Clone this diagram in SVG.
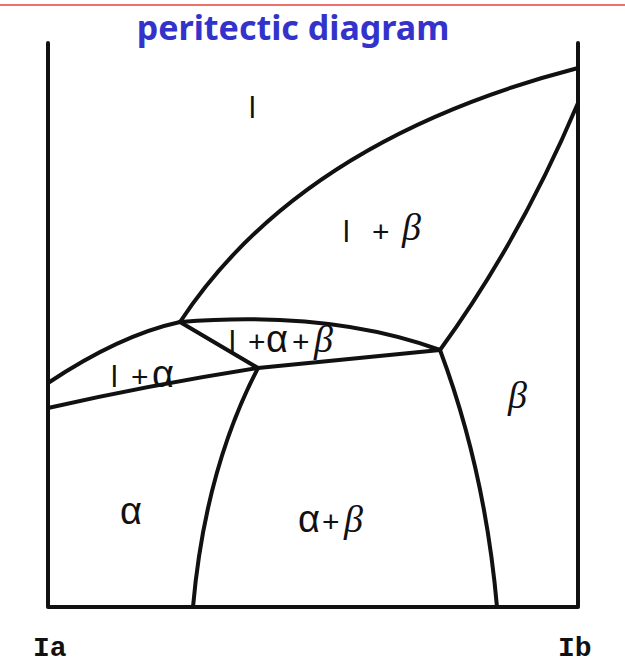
<svg xmlns="http://www.w3.org/2000/svg" width="625" height="663" viewBox="0 0 625 663">
<style>
.ln{fill:none;stroke:#111;stroke-width:4;stroke-linecap:round;stroke-linejoin:round}
.lb{font-family:"Liberation Sans",Arial,sans-serif;font-size:30px;fill:#111}
.al{font-family:"Liberation Sans",Arial,sans-serif;font-size:38px;fill:#111}
.gr{font-family:"Liberation Serif","Times New Roman",serif;font-style:italic;font-size:38px;fill:#111}
.ax{font-family:"Liberation Mono","Courier New",monospace;font-weight:bold;font-size:28px;fill:#111}
</style>
<rect width="625" height="663" fill="#fff"/>
<line x1="0" y1="5" x2="625" y2="5" stroke="#f07070" stroke-width="2"/>
<text x="293" y="40" text-anchor="middle" font-family="'Noto Sans','Open Sans',sans-serif" font-weight="bold" font-size="34" fill="#3333cc">peritectic diagram</text>
<g id="connectors">
<path class="ln" d="M48,43 V607 H578 V43"/>
<path class="ln" d="M180,322 Q300,140 578,68"/>
<path class="ln" d="M440,350 Q520,240 578,103"/>
<path class="ln" d="M48,383 Q120,335 180,322"/>
<path class="ln" d="M48,408 Q150,385 258,368"/>
<path class="ln" d="M180,322 L258,368"/>
<path class="ln" d="M180,322 Q330,310 440,350"/>
<path class="ln" d="M258,368 L440,350"/>
<path class="ln" d="M258,368 Q205,470 193,607"/>
<path class="ln" d="M440,350 Q485,470 497,607"/>
</g>
<g id="l"><text class="lb" x="249" y="118">l</text></g>
<g id="lbeta"><text class="lb" x="343" y="242">l</text><text class="lb" x="372" y="242">+</text><text class="gr" x="402" y="240">β</text></g>
<g id="lab"><text class="lb" x="229" y="352">l</text><text class="lb" x="248" y="352">+</text><text class="al" x="266" y="352">α</text><text class="lb" x="292" y="352">+</text><text class="gr" x="314" y="352">β</text></g>
<g id="la"><text class="lb" x="111" y="387">l</text><text class="lb" x="131" y="387">+</text><text class="al" x="152" y="387">α</text></g>
<g id="beta"><text class="gr" x="508" y="408">β</text></g>
<g id="alpha"><text class="al" x="120" y="524">α</text></g>
<g id="ab"><text class="al" x="298" y="532">α</text><text class="lb" x="322" y="532">+</text><text class="gr" x="344" y="532">β</text></g>
<g id="Ia"><text class="ax" x="33" y="656">Ia</text></g>
<g id="Ib"><text class="ax" x="558" y="656">Ib</text></g>
</svg>
